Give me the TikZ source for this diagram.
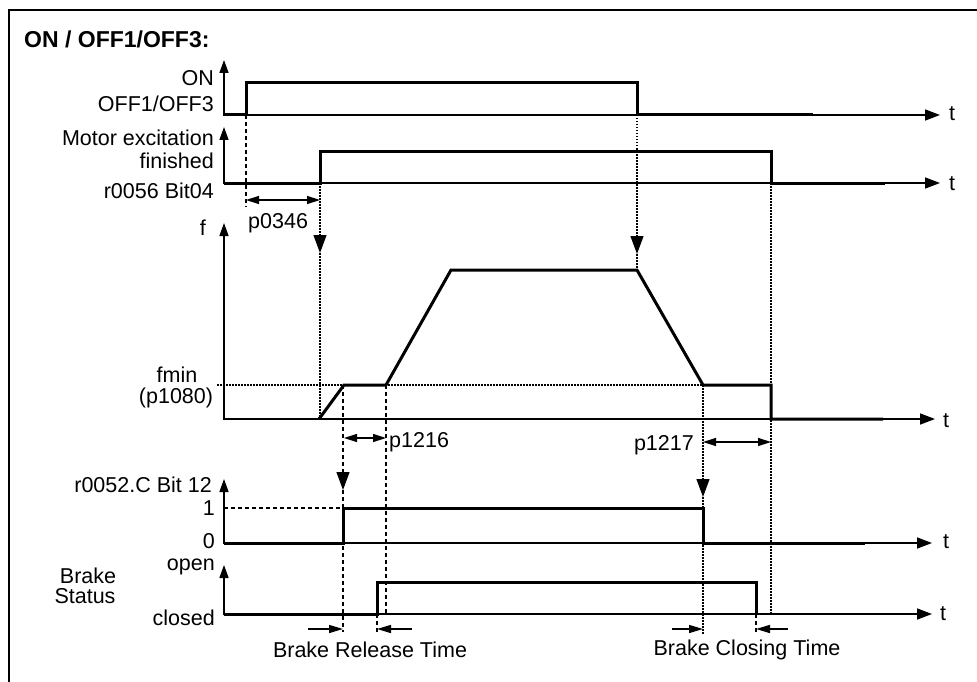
\documentclass[tikz,border=0pt]{standalone}
\usepackage{fontspec}
\setmainfont{Liberation Sans}
\usetikzlibrary{arrows.meta}
\begin{document}
\begin{tikzpicture}[x=1pt,y=-1pt,
 lbl/.style={inner sep=0pt, font=\fontsize{21.5}{24}\selectfont},
 sig/.style={line width=3pt, line join=miter},
 axisl/.style={line width=1.6pt},
 taxis/.style={axisl, -{Triangle[length=15pt,width=11pt]}},
 yaxis/.style={axisl, -{Triangle[length=13pt,width=9pt]}},
 dashl/.style={line width=1.2pt, dash pattern=on 4pt off 3pt},
 dotl/.style={line width=1.2pt, dash pattern=on 1.5pt off 1.5pt},
 downarr/.style={-{Triangle[length=18pt,width=13pt]}},
 dimarr/.style={line width=1.4pt, {Triangle[length=13pt,width=8pt]}-{Triangle[length=13pt,width=8pt]}},
 relarr/.style={line width=1.4pt, -{Triangle[length=14pt,width=8pt]}},
]
\useasboundingbox (0,0) rectangle (977,682);
\draw[line width=2.2pt] (9,682) -- (9,10) -- (977,10);

\node[lbl, font=\bfseries\fontsize{23}{26}\selectfont, anchor=base west] (title) at (24,48) {ON / OFF1/OFF3:};

% ON / OFF signal
\draw[taxis] (224,115) -- (940,115);
\draw[yaxis] (224,116) -- (224,60);
\draw[sig] (224,115) -- (246,115) -- (246,83) -- (637,83) -- (637,115) -- (813,115);
\node[lbl, anchor=base east] (on) at (214,86) {ON};
\node[lbl, anchor=base east] (off) at (214,112) {OFF1/OFF3};
\node[lbl, anchor=base west] (t1) at (949,121) {t};

% motor excitation
\draw[taxis] (224,183) -- (940,183);
\draw[yaxis] (224,184) -- (224,127);
\draw[sig] (224,183) -- (320,183) -- (320,152) -- (771,152) -- (771,183) -- (885,183);
\node[lbl, anchor=base east] (me1) at (214,146) {Motor excitation};
\node[lbl, anchor=base east] (me2) at (214,168) {finished};
\node[lbl, anchor=base east] (me3) at (214,198) {r0056 Bit04};
\node[lbl, anchor=base west] (t2) at (949,190) {t};

% frequency
\draw[taxis] (224,419) -- (935,419);
\draw[yaxis] (224,420) -- (224,223);
\draw[dotl] (217,385) -- (703,385);
\draw[sig] (319,419) -- (344,385) -- (386,385) -- (451,270) -- (637,270) -- (703,385) -- (771,385) -- (771,419) -- (883,419);
\node[lbl, anchor=base east] (f) at (206,235) {f};
\node[lbl, anchor=base] (fmin) at (177,382) {fmin};
\node[lbl, anchor=base] (p1080) at (176,403) {(p1080)};
\node[lbl, anchor=base west] (t3) at (943,427) {t};

% r0052
\draw[taxis] (224,543) -- (932,543);
\draw[yaxis] (224,544) -- (224,479);
\draw[dashl] (224,508) -- (343,508);
\draw[sig] (224,543) -- (343,543) -- (343,508) -- (703,508) -- (703,543) -- (865,543);
\node[lbl, anchor=base east] (r52) at (212,492) {r0052.C Bit 12};
\node[lbl, anchor=base east] (one) at (215,515) {1};
\node[lbl, anchor=base east] (zero) at (215,548) {0};
\node[lbl, anchor=base west] (t4) at (943,548) {t};

% brake status
\draw[taxis] (224,614) -- (932,614);
\draw[yaxis] (224,615) -- (224,565);
\draw[sig] (224,614) -- (377,614) -- (377,582) -- (756,582) -- (756,614);
\node[lbl, anchor=base east] (open) at (215,570) {open};
\node[lbl, anchor=base east] (closed) at (215,625) {closed};
\node[lbl, anchor=base] (brake) at (88,583) {Brake};
\node[lbl, anchor=base] (status) at (85,603) {Status};
\node[lbl, anchor=base west] (t5) at (940,620) {t};

% vertical guides
\draw[dashl] (246,115) -- (246,207);
\draw[dotl, downarr] (320,183) -- (320,253);
\draw[dotl] (320,253) -- (320,419);
\draw[dotl, downarr] (637,115) -- (637,254);
\draw[dotl] (637,254) -- (637,270);
\draw[dashl, downarr] (343,385) -- (343,490);
\draw[dashl] (343,490) -- (343,632);
\draw[dashl] (386,385) -- (386,614);
\draw[dotl, downarr] (703,385) -- (703,497);
\draw[dotl] (703,497) -- (703,635);
\draw[dotl] (771,183) -- (771,614);
\draw[dashl] (377,614) -- (377,632);
\draw[dashl] (756,614) -- (756,632);

% dimensions
\draw[dimarr] (246,200) -- (320,200);
\node[lbl, anchor=base west] (p0346) at (248,228) {p0346};
\draw[dimarr] (344,438) -- (386,438);
\node[lbl, anchor=base west] (p1216) at (389,447) {p1216};
\draw[dimarr] (703,442) -- (771,442);
\node[lbl, anchor=base east] (p1217) at (694,450) {p1217};
\draw[relarr] (308,629) -- (343,629);
\draw[relarr] (412,629) -- (377,629);
\node[lbl, anchor=base] (brt) at (370,657) {Brake Release Time};
\draw[relarr] (672,629) -- (703,629);
\draw[relarr] (788,629) -- (756,629);
\node[lbl, anchor=base] (bct) at (747,655) {Brake Closing Time};
\end{tikzpicture}
\end{document}
